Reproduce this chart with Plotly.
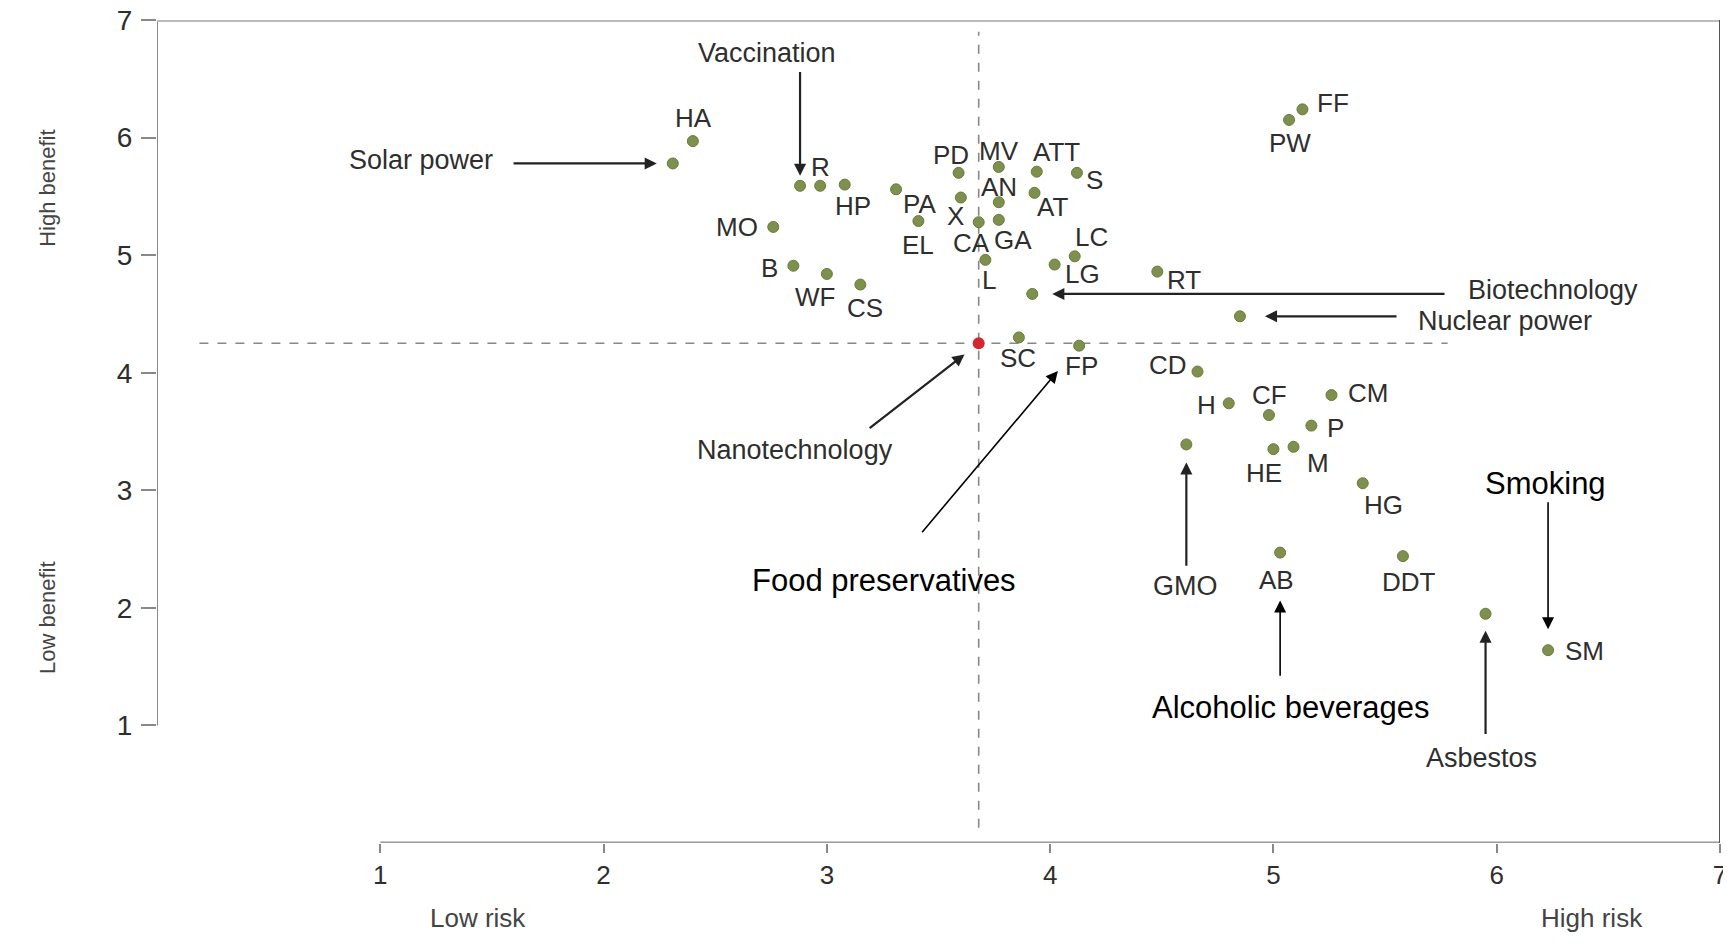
import plotly.graph_objects as go

# ---------------- data ----------------
codes = ["HA", "R", "HP", "PA", "EL", "PD", "MV", "X", "AN", "CA", "GA", "ATT", "S", "AT",
         "LC", "LG", "L", "RT", "MO", "B", "WF", "CS", "SC", "FP", "FF", "PW", "CD", "H",
         "CF", "CM", "P", "HE", "M", "HG", "AB", "DDT", "SM"]
risk = [2.40, 2.97, 3.08, 3.31, 3.41, 3.59, 3.77, 3.60, 3.77, 3.68, 3.77, 3.94, 4.12, 3.93,
        4.11, 4.02, 3.71, 4.48, 2.76, 2.85, 3.00, 3.15, 3.86, 4.13, 5.13, 5.07, 4.66, 4.80,
        4.98, 5.26, 5.17, 5.00, 5.09, 5.40, 5.03, 5.58, 6.23]
benefit = [5.97, 5.59, 5.60, 5.56, 5.29, 5.70, 5.75, 5.49, 5.45, 5.28, 5.30, 5.71, 5.70, 5.53,
           4.99, 4.92, 4.96, 4.86, 5.24, 4.91, 4.84, 4.75, 4.30, 4.23, 6.24, 6.15, 4.01, 3.74,
           3.64, 3.81, 3.55, 3.35, 3.37, 3.06, 2.47, 2.44, 1.64]

named = ["Solar power", "Vaccination", "Biotechnology", "Nuclear power", "GMO", "Asbestos"]
named_risk = [2.31, 2.88, 3.92, 4.85, 4.61, 5.95]
named_benefit = [5.78, 5.59, 4.67, 4.48, 3.39, 1.95]

nano_name = "Nanotechnology"
nano_risk = 3.68
nano_benefit = 4.25

axis_ticks = [1, 2, 3, 4, 5, 6, 7]

# ---------------- styles / label placement (pixel offsets) ----------------
label_offset = {
    "HA": (1, -23), "R": (0, -19), "HP": (8, 21), "PA": (23, 15), "EL": (0, 24),
    "PD": (-8, -18), "MV": (0, -16), "X": (-5, 18), "AN": (0, -15), "CA": (-7, 21),
    "GA": (14, 20), "ATT": (20, -20), "S": (18, 7), "AT": (18, 14), "LC": (17, -19),
    "LG": (28, 9), "L": (4, 20), "RT": (27, 8), "MO": (-36, 0), "B": (-24, 2),
    "WF": (-12, 23), "CS": (5, 23), "SC": (-1, 21), "FP": (2, 20), "FF": (31, -6),
    "PW": (1, 23), "CD": (-30, -7), "H": (-22, 2), "CF": (1, -20), "CM": (37, -2),
    "P": (24, 2), "HE": (-9, 24), "M": (24, 16), "HG": (21, 22), "AB": (-4, 27),
    "DDT": (6, 26), "SM": (36, 1),
}

GRAY_TXT = "#2e2e2e"
DOT = "#7f8f4e"
FONT = "Liberation Sans, Arial, Helvetica, sans-serif"

fig = go.Figure()

all_x = risk + named_risk
all_y = benefit + named_benefit
fig.add_trace(go.Scatter(
    x=all_x, y=all_y, mode="markers",
    marker=dict(size=11, color=DOT, line=dict(color="#6a7a3c", width=1)),
    hoverinfo="skip", showlegend=False, cliponaxis=False))
fig.add_trace(go.Scatter(
    x=[nano_risk], y=[nano_benefit], mode="markers",
    marker=dict(size=12, color="#d42530", symbol="circle"),
    hoverinfo="skip", showlegend=False, cliponaxis=False))

ann = []
for c, xv, yv in zip(codes, risk, benefit):
    dx, dy = label_offset[c]
    ann.append(dict(x=xv, y=yv, xref="x", yref="y", text=c, showarrow=False,
                    xshift=dx, yshift=-dy, xanchor="center", yanchor="middle",
                    font=dict(family=FONT, size=26, color=GRAY_TXT)))

pts = {n: (xv, yv) for n, xv, yv in zip(named, named_risk, named_benefit)}
pts[nano_name] = (nano_risk, nano_benefit)
pts["FP"] = (risk[codes.index("FP")], benefit[codes.index("FP")])
pts["AB"] = (risk[codes.index("AB")], benefit[codes.index("AB")])
pts["SM"] = (risk[codes.index("SM")], benefit[codes.index("SM")])

# (label text, target point, label position, arrow tail, standoff, style)
callouts = [
    ("Solar power", "Solar power", (1.184, 5.806), (1.59, None), 16, "g"),
    ("Vaccination", "Vaccination", (2.733, 6.716), (None, 6.57), 10, "g"),
    ("Nanotechnology", nano_name, (2.858, 3.339), (3.185, 3.518), 18, "g"),
    ("Biotechnology", "Biotechnology", (6.253, 4.70), (5.773, None), 20, "g"),
    ("Nuclear power", "Nuclear power", (6.037, 4.436), (5.558, None), 25, "g"),
    ("GMO", "GMO", (4.605, 2.19), (None, 2.346), 18, "g"),
    ("Asbestos", "Asbestos", (5.934, 0.72), (None, 0.915), 17, "g"),
    ("Food preservatives", "FP", (3.257, 2.233), (3.421, 2.631), 33, "k"),
    ("Alcoholic beverages", "AB", (5.078, 1.15), (None, 1.41), 48, "k"),
    ("Smoking", "SM", (6.22, 3.055), (None, 2.91), 21, "k"),
]
for text, target, lpos, tail, so, style in callouts:
    px, py = pts[target]
    tx = px if tail[0] is None else tail[0]
    ty = py if tail[1] is None else tail[1]
    if style == "g":
        fcol, fsize, acol, aw, asz = GRAY_TXT, 27, "#222222", 2.2, 1.1
    else:
        fcol, fsize, acol, aw, asz = "#000000", 31, "#000000", 1.6, 1.5
    ann.append(dict(x=px, y=py, xref="x", yref="y", ax=tx, ay=ty, axref="x", ayref="y",
                    text="", showarrow=True, arrowhead=2, arrowsize=asz, arrowwidth=aw,
                    arrowcolor=acol, standoff=so))
    ann.append(dict(x=lpos[0], y=lpos[1], xref="x", yref="y", text=text, showarrow=False,
                    xanchor="center", yanchor="middle",
                    font=dict(family=FONT, size=fsize, color=fcol)))

# axis end labels
ann += [
    dict(x=-0.0793, y=0.869, xref="paper", yref="paper", text="High benefit", textangle=-90,
         showarrow=False, font=dict(family=FONT, size=22, color="#444444")),
    dict(x=-0.0793, y=0.203, xref="paper", yref="paper", text="Low benefit", textangle=-90,
         showarrow=False, font=dict(family=FONT, size=22, color="#444444")),
    dict(x=0.1734, y=-0.1118, xref="paper", yref="paper", text="Low risk",
         showarrow=False, font=dict(family=FONT, size=26, color="#444444")),
    dict(x=0.952, y=-0.1118, xref="paper", yref="paper", text="High risk",
         showarrow=False, font=dict(family=FONT, size=26, color="#444444")),
]

shapes = [
    # dashed reference lines through nanotechnology point
    dict(type="line", x0=nano_risk, x1=nano_risk, y0=0.13, y1=6.9, xref="x", yref="y",
         line=dict(color="#888888", width=1.6, dash="dash"), layer="below"),
    dict(type="line", x0=0.19, x1=5.78, y0=nano_benefit, y1=nano_benefit, xref="x", yref="y",
         line=dict(color="#888888", width=1.6, dash="dash"), layer="below"),
    # y axis line
    dict(type="line", x0=0, x1=0, y0=1, y1=7, xref="x", yref="y",
         line=dict(color="#8a8a8a", width=2)),
    # x axis line
    dict(type="line", x0=1, x1=7, y0=0, y1=0, xref="x", yref="y",
         line=dict(color="#999999", width=3)),
    # top border
    dict(type="line", x0=0, x1=7, y0=7, y1=7, xref="x", yref="y",
         line=dict(color="#bbbbbb", width=4)),
    # right border
    dict(type="line", x0=7, x1=7, y0=0, y1=7, xref="x", yref="y",
         line=dict(color="#555555", width=2)),
]

# page body has an 8px default margin; size the figure so it fills the window exactly
fig.update_layout(
    width=1723, height=941,
    margin=dict(l=149, r=11, t=12, b=106, pad=0, autoexpand=False),
    paper_bgcolor="white", plot_bgcolor="white",
    annotations=ann, shapes=shapes, showlegend=False,
    xaxis=dict(range=[0, 7], tickvals=axis_ticks, ticktext=[str(t) for t in axis_ticks],
               showgrid=False, zeroline=False, showline=False, automargin=False,
               ticklabeloverflow="allow",
               ticks="outside", ticklen=9, tickwidth=2, tickcolor="#888888",
               tickfont=dict(family=FONT, size=26, color=GRAY_TXT), fixedrange=True),
    yaxis=dict(range=[0, 7], tickvals=axis_ticks, ticktext=[str(t) for t in axis_ticks],
               showgrid=False, zeroline=False, showline=False, automargin=False,
               ticklabeloverflow="allow", ticklabelstandoff=3,
               ticks="outside", ticklen=15, tickwidth=2, tickcolor="#888888",
               tickfont=dict(family=FONT, size=28, color=GRAY_TXT), fixedrange=True),
)

fig.write_html("out.html")
